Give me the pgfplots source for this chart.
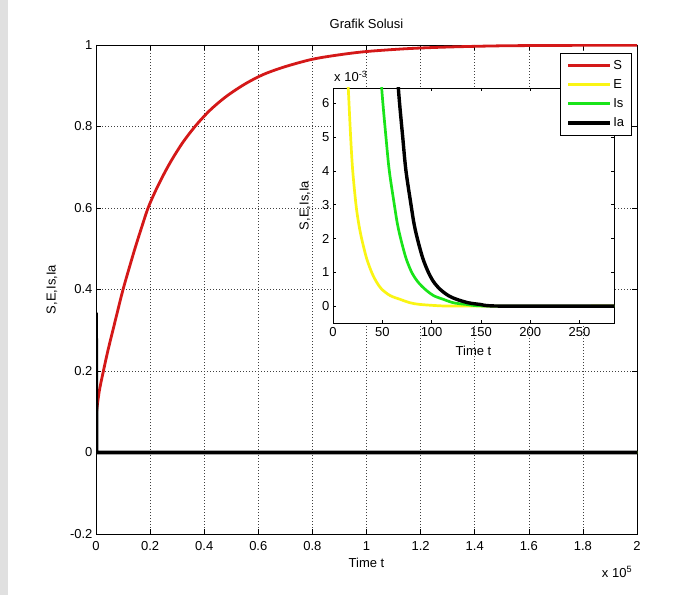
\documentclass[border=0pt]{standalone}
\usepackage{fontspec}
\setmainfont{Liberation Sans}
\usepackage{pgfplots}
\pgfplotsset{compat=1.18}
\definecolor{mred}{RGB}{212,24,24}
\definecolor{myellow}{RGB}{250,245,20}
\definecolor{mgreen}{RGB}{25,228,25}
\newcommand\myfont{\fontsize{13}{15}\selectfont}
\pgfplotsset{
  mstyle/.style={
    scale only axis,
    anchor=south west,
    /pgf/number format/assume math mode=true,
    tick align=inside, tick pos=both,
    axis line style={line width=0.7pt},
    every tick/.style={black, line width=0.6pt},
    every tick label/.append style={font=\myfont},
    label style={font=\myfont},
    title style={font=\myfont},
    scaled x ticks=false, scaled y ticks=false,
  }
}
\begin{document}
\begin{tikzpicture}[x=1pt,y=1pt]
\fill[white] (0,0) rectangle (694,595);
\fill[black!12] (0,0) rectangle (8,595);
% main axis
\begin{axis}[mstyle,
  at={(96pt,61pt)}, width=541pt, height=489pt,
  xmin=0, xmax=200000, ymin=-0.2, ymax=1,
  xtick={0,20000,40000,60000,80000,100000,120000,140000,160000,180000,200000},
  xticklabels={0,0.2,0.4,0.6,0.8,1,1.2,1.4,1.6,1.8,2},
  ytick={-0.2,0,0.2,0.4,0.6,0.8,1},
  yticklabels={-0.2,0,0.2,0.4,0.6,0.8,1},
  major tick length=5pt,
  grid=major,
  grid style={black!75, line width=0.5pt, dash pattern=on 0.8pt off 2.2pt},
  xticklabel style={yshift=-4pt},
  xlabel={Time t}, ylabel={S,E,Is,Ia}, title={Grafik Solusi},
  xlabel style={at={(axis description cs:0.5,-0.0593)}, anchor=center},
  ylabel style={at={(axis description cs:-0.0813,0.5)}, anchor=center},
  title style={at={(axis description cs:0.5,1.0307)}, anchor=center},
]
\addplot[mred, line width=2.8pt, smooth, tension=0.5] coordinates {
 (0,0.09) (1200,0.15) (2740,0.2) (4400,0.25) (6250,0.3) (8100,0.35) (10000,0.4)
 (12150,0.45) (14375,0.5) (16750,0.55) (19250,0.6) (22000,0.642) (25000,0.682)
 (28000,0.718) (32000,0.76) (36600,0.8) (42000,0.839) (48000,0.873) (55000,0.904)
 (62000,0.928) (70000,0.947) (80000,0.965) (90000,0.976) (100000,0.984)
 (115000,0.991) (130000,0.995) (150000,0.998) (175000,0.9991) (200000,0.9997)};
\addplot[myellow, line width=2.8pt] coordinates {(0,0.12) (150,0) (200000,0)};
\addplot[mgreen, line width=2.8pt] coordinates {(0,0.22) (170,0) (200000,0)};
\addplot[black, line width=3.8pt] coordinates {(0,0.3435) (200,0) (200000,0)};
\end{axis}
% inset axis
\begin{axis}[mstyle,
  at={(333pt,272pt)}, width=281pt, height=235pt,
  axis background/.style={fill=white},
  xmin=0, xmax=285, ymin=-0.0005, ymax=0.00645,
  xtick={0,50,100,150,200,250},
  xticklabels={0,50,100,150,200,250},
  ytick={0,0.001,0.002,0.003,0.004,0.005,0.006},
  yticklabels={0,1,2,3,4,5,6},
  major tick length=3pt,
  xticklabel style={yshift=-1pt},
  xlabel={Time t}, ylabel={S,E,Is,Ia},
  xlabel style={at={(axis description cs:0.5,-0.119)}, anchor=center},
  ylabel style={at={(axis description cs:-0.0996,0.5)}, anchor=center},
]
\addplot[myellow, line width=2.7pt, smooth, tension=0.5] coordinates {
 (12,0.0085) (15.5,0.00644) (17.9,0.005) (20,0.004) (23.3,0.003) (26,0.00245) (29,0.002) (34,0.00142)
 (39.2,0.001) (44,0.00072) (49.4,0.0005) (58,0.00031) (68,0.0002) (78,0.0001) (88,0.00005) (108,0.00001) (130,0) (290,0)};
\addplot[mgreen, line width=2.7pt, smooth, tension=0.5] coordinates {
 (45,0.0085) (49.4,0.00644) (53.7,0.005) (57.1,0.004) (62.2,0.003) (65.2,0.00245) (68.6,0.002) (74,0.00142)
 (79.8,0.001) (86,0.00072) (93.3,0.0005) (102,0.00031) (111.9,0.0002) (122,0.0001) (135,0.00005) (160,0) (290,0)};
\addplot[black, line width=3.4pt, smooth, tension=0.5] coordinates {
 (62,0.0085) (66.3,0.00644) (70.7,0.005) (74,0.004) (79.1,0.003) (82.1,0.00245) (85.5,0.002) (91,0.00142)
 (96.7,0.001) (102,0.00072) (108.5,0.0005) (117,0.00031) (125.4,0.0002) (137,0.0001) (149,0.00005) (170,0) (290,0)};
\end{axis}
% legend axis
\begin{axis}[
  scale only axis, anchor=south west,
  at={(96pt,61pt)}, width=541pt, height=489pt,
  xmin=0, xmax=1, ymin=0, ymax=1, hide axis,
  legend cell align=left,
  legend image code/.code={\draw[#1] (0pt,0pt) -- (42pt,0pt);},
  legend style={at={(0.9908,0.9836)}, anchor=north east, draw=black, line width=0.7pt,
    fill=white, font=\myfont, row sep=4pt, inner xsep=6pt, inner ysep=5pt,
    nodes={inner sep=1.5pt, text height=9.5pt, text depth=2.5pt}},
]
\addlegendimage{mred, line width=2.8pt}
\addlegendentry{S}
\addlegendimage{myellow, line width=2.8pt}
\addlegendentry{E}
\addlegendimage{mgreen, line width=2.8pt}
\addlegendentry{Is}
\addlegendimage{black, line width=3.4pt}
\addlegendentry{Ia}
\end{axis}
\node[font=\myfont] at (617,23) {x 10\textsuperscript{5}};
\node[font=\myfont, anchor=south west, inner sep=0pt] at (334,513) {x 10\textsuperscript{-3}};
\end{tikzpicture}
\end{document}
